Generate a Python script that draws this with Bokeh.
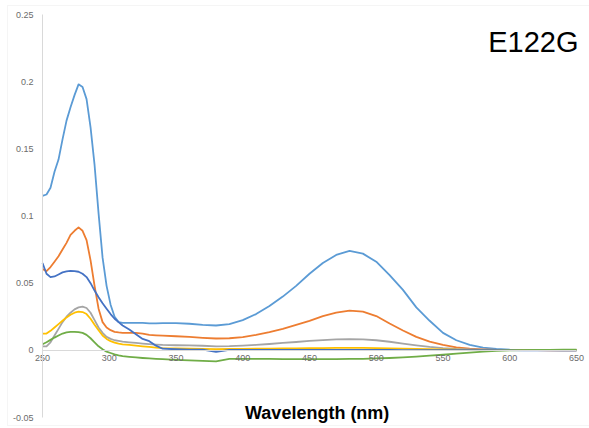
from bokeh.plotting import figure
from bokeh.models import FixedTicker, Label, BoxAnnotation
from bokeh.embed import file_html
from bokeh.resources import INLINE

wavelength = [250, 253, 256, 259, 262, 265, 268, 271, 274, 277, 280, 283, 286, 289, 292, 295, 298,
              301, 304, 307, 310, 315, 320, 325, 330, 335, 340, 350, 360, 370, 380, 390, 400, 410,
              420, 430, 440, 450, 460, 470, 480, 490, 500, 510, 520, 530, 540, 550, 560, 570, 580,
              590, 600, 610, 620, 630, 640, 650]

s_lightblue = [0.115, 0.116, 0.121, 0.133, 0.142, 0.157, 0.171, 0.181, 0.190, 0.198, 0.196, 0.187,
               0.166, 0.138, 0.102, 0.069, 0.048, 0.034, 0.025, 0.021, 0.0205, 0.0205, 0.0205, 0.0205,
               0.0200, 0.0200, 0.0202, 0.0203, 0.0198, 0.0190, 0.0185, 0.0195, 0.0225, 0.027, 0.033,
               0.040, 0.048, 0.057, 0.065, 0.071, 0.074, 0.072, 0.066, 0.056, 0.045, 0.032, 0.022,
               0.013, 0.0075, 0.004, 0.002, 0.001, 0.0005, 0.0003, 0.0002, 0.0001, 0.0, 0.0]

s_orange = [0.0605, 0.059, 0.062, 0.066, 0.070, 0.075, 0.080, 0.086, 0.089, 0.0915, 0.089, 0.082,
            0.067, 0.048, 0.031, 0.021, 0.017, 0.015, 0.0138, 0.0133, 0.013, 0.013, 0.013, 0.0125,
            0.0115, 0.0112, 0.011, 0.0105, 0.010, 0.0093, 0.0088, 0.009, 0.0098, 0.0115, 0.0135,
            0.016, 0.019, 0.022, 0.0255, 0.028, 0.0295, 0.0288, 0.0255, 0.020, 0.0148, 0.010, 0.0065,
            0.004, 0.0022, 0.0012, 0.0007, 0.0004, 0.0003, 0.0002, 0.0001, 0.0, 0.0, 0.0]

s_gray = [0.003, 0.003, 0.006, 0.011, 0.016, 0.021, 0.025, 0.028, 0.0305, 0.032, 0.0325, 0.0315,
          0.028, 0.0225, 0.017, 0.013, 0.010, 0.0085, 0.0075, 0.007, 0.0065, 0.006, 0.0055, 0.005,
          0.0046, 0.0043, 0.004, 0.0038, 0.0037, 0.0034, 0.003, 0.0031, 0.0035, 0.004, 0.0047,
          0.0055, 0.0062, 0.007, 0.0076, 0.0081, 0.0084, 0.0082, 0.0075, 0.0064, 0.005, 0.0037,
          0.0025, 0.0016, 0.001, 0.0007, 0.0005, 0.0004, 0.0003, 0.0003, 0.0003, 0.0003, 0.0003, 0.0003]

s_yellow = [0.0125, 0.0125, 0.0145, 0.017, 0.0195, 0.022, 0.0245, 0.0265, 0.028, 0.0288, 0.0285,
            0.027, 0.0235, 0.019, 0.015, 0.011, 0.0085, 0.0068, 0.0058, 0.005, 0.0045, 0.004, 0.0035,
            0.003, 0.0025, 0.002, 0.0017, 0.0014, 0.0012, 0.0011, 0.0009, 0.001, 0.0011, 0.0012,
            0.0013, 0.0014, 0.0015, 0.0016, 0.0017, 0.0018, 0.0018, 0.0018, 0.0017, 0.0015, 0.0013,
            0.0011, 0.0009, 0.0007, 0.0005, 0.0004, 0.0003, 0.0003, 0.0003, 0.0003, 0.0003, 0.0003,
            0.0003, 0.0003]

s_darkblue = [0.065, 0.057, 0.0545, 0.055, 0.0565, 0.058, 0.0588, 0.0592, 0.059, 0.0585, 0.057,
              0.0545, 0.050, 0.0445, 0.0395, 0.035, 0.031, 0.027, 0.0235, 0.021, 0.0185, 0.0155,
              0.012, 0.0085, 0.0068, 0.0035, 0.0012, 0.0008, 0.0006, 0.0005, -0.0012, 0.0003, 0.0003,
              0.0003, 0.0003, 0.0003, 0.0003, 0.0003, 0.0003, 0.0003, 0.0003, 0.0003, 0.0003, 0.0003,
              0.0002, 0.0002, 0.0002, 0.0002, 0.0002, 0.0001, 0.0001, 0.0001, 0.0001, 0.0, 0.0, 0.0,
              0.0, 0.0]

s_green = [0.0045, 0.006, 0.0078, 0.0095, 0.011, 0.0125, 0.0133, 0.0137, 0.0138, 0.0136, 0.013,
           0.0115, 0.009, 0.006, 0.003, 0.0008, -0.001, -0.002, -0.003, -0.0037, -0.0043, -0.0048,
           -0.0053, -0.0057, -0.006, -0.0063, -0.0066, -0.0071, -0.0075, -0.0078, -0.0082, -0.0063,
           -0.0063, -0.0063, -0.0064, -0.0065, -0.0066, -0.0066, -0.0066, -0.0065, -0.0064, -0.0063,
           -0.006, -0.0057, -0.0053, -0.0047, -0.004, -0.0033, -0.0025, -0.0017, -0.001, -0.0004,
           0.0, 0.0002, 0.0003, 0.0004, 0.0005, 0.0005]

series = [s_lightblue, s_orange, s_gray, s_yellow, s_darkblue, s_green]
colors = ["#5B9BD5", "#ED7D31", "#A5A5A5", "#FFC000", "#4472C4", "#70AD47"]

x_ticks = [250, 300, 350, 400, 450, 500, 550, 600, 650]
y_ticks = [-0.05, 0, 0.05, 0.1, 0.15, 0.2, 0.25]
y_tick_labels = ["-0.05", "0", "0.05", "0.1", "0.15", "0.2", "0.25"]
title_text = "E122G"
x_title = "Wavelength (nm)"

# layout (pixels): plot area spans x 42..576 and y 14..417 of a 589x428 canvas
W, H = 589, 428
X0, X1, XPX0, XPX1 = 250, 650, 42, 576
Y0, Y1, YPX0, YPX1 = -0.05, 0.25, 417, 14
sx = (X1 - X0) / (XPX1 - XPX0)
sy = (Y1 - Y0) / (YPX0 - YPX1)


def dx(px):
    return X0 + (px - XPX0) * sx


def dy(py):
    return Y0 + (YPX0 - py) * sy


p = figure(width=W, height=H, x_range=(dx(0), dx(W)), y_range=(dy(H), dy(0)),
           output_backend="svg", toolbar_location=None,
           min_border_left=0, min_border_right=0, min_border_top=0, min_border_bottom=0)
p.outline_line_color = None
p.grid.visible = False
p.background_fill_color = "white"
p.border_fill_color = "white"

# chart-area border
p.add_layout(BoxAnnotation(left=dx(7), right=dx(W + 20), top=dy(5), bottom=dy(425),
                           fill_color=None, fill_alpha=0, line_color="#dedede", line_width=1))

for ys, c in zip(series, colors):
    p.line(wavelength, ys, line_color=c, line_width=1.8, line_join="round")

font = "Liberation Sans"
xa = p.xaxis[0]
xa.fixed_location = 0
xa.bounds = (X0, X1)
xa.ticker = FixedTicker(ticks=x_ticks)
xa.axis_line_color = "#d9d9d9"
xa.major_tick_line_color = None
xa.minor_tick_line_color = None
xa.major_tick_out = 0
xa.major_tick_in = 0
xa.major_label_standoff = 5
xa.major_label_text_font = font
xa.major_label_text_font_size = "9px"
xa.major_label_text_color = "#6b6b6b"

ya = p.yaxis[0]
ya.fixed_location = X0
ya.bounds = (Y0, Y1)
ya.ticker = FixedTicker(ticks=y_ticks)
ya.major_label_overrides = {t: l for t, l in zip(y_ticks, y_tick_labels)}
ya.axis_line_color = "#d9d9d9"
ya.major_tick_line_color = None
ya.minor_tick_line_color = None
ya.major_tick_out = 0
ya.major_tick_in = 0
ya.major_label_standoff = 9
ya.major_label_text_font = font
ya.major_label_text_font_size = "9px"
ya.major_label_text_color = "#6b6b6b"

p.add_layout(Label(x=dx(578), y=dy(41.7), text=title_text, text_align="right",
                   text_baseline="alphabetic", text_font=font, text_font_size="29px",
                   text_color="black"))
p.add_layout(Label(x=dx(316.7), y=dy(412.3), text=x_title, text_align="center",
                   text_baseline="alphabetic", text_font=font, text_font_size="18px",
                   text_font_style="bold", text_color="black"))

open("out.html", "w").write(file_html(p, INLINE))
